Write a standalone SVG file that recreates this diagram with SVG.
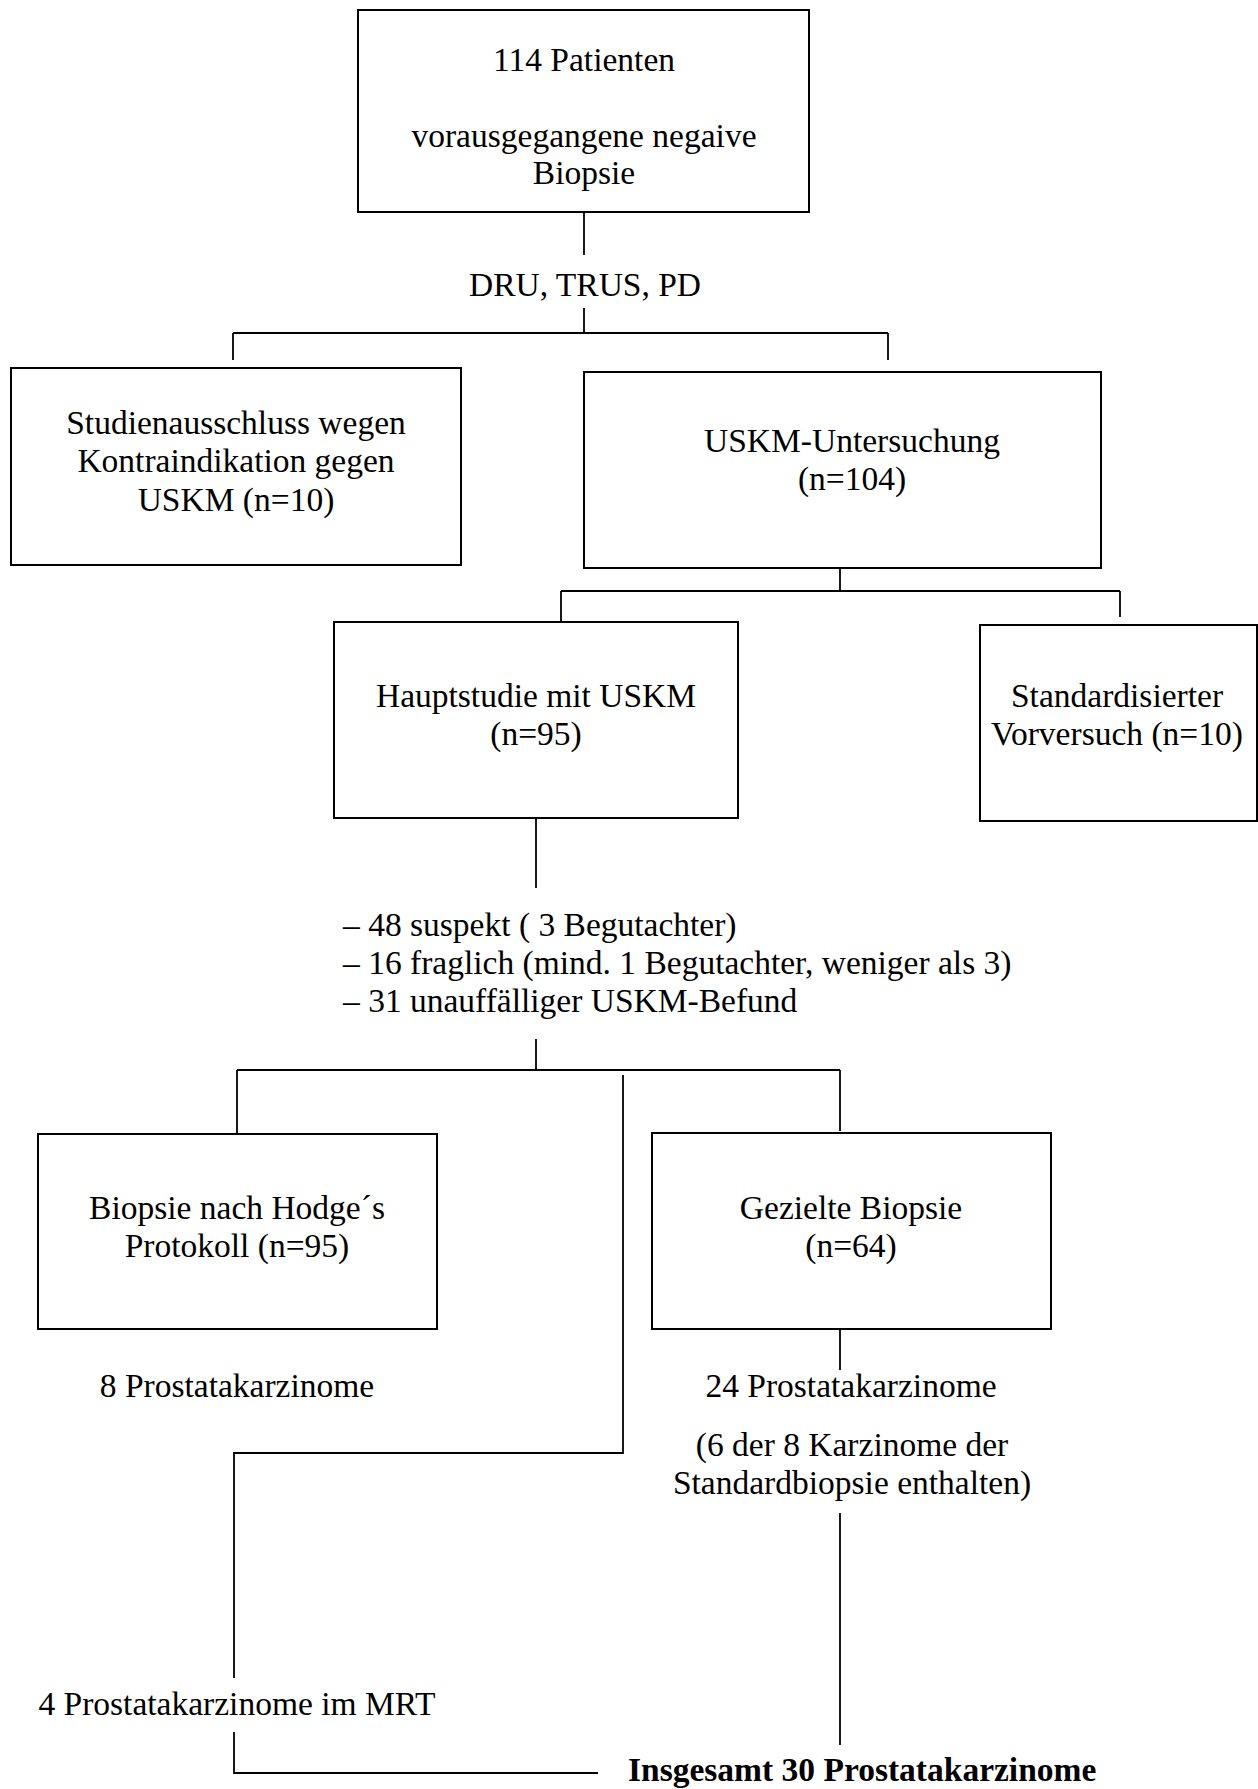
<svg xmlns="http://www.w3.org/2000/svg" width="1258" height="1789" viewBox="0 0 1258 1789">
<style>
text{font-family:"Liberation Serif","Times New Roman",serif;font-size:33.5px;fill:#000}
.c{text-anchor:middle}
.b{font-weight:bold}
.box{fill:#fff;stroke:#000;stroke-width:2}
.ln{fill:none;stroke:#000;stroke-width:1.8}
</style>
<rect width="1258" height="1789" fill="#fff"/>
<g id="connectors">
<path class="ln" d="M584,212 V255 M584,308 V333 M233,333 H888 M233,333 V360 M888,333 V360"/>
<path class="ln" d="M840,568 V591 M561,591 H1120 M561,591 V622 M1120,591 V617"/>
<path class="ln" d="M536,818 V888 M536,1039 V1070 M237,1070 H840 M237,1070 V1134 M840,1070 V1131"/>
<path class="ln" d="M623,1075 V1453 H234 V1678 M234,1732 V1773 H598"/>
<path class="ln" d="M840,1329 V1370 M840,1513 V1745"/>
</g>
<g id="n1">
<rect class="box" x="358" y="10" width="451" height="202"/>
<text class="c" x="584" y="71">114 Patienten</text>
<text class="c" x="584" y="147">vorausgegangene negaive</text>
<text class="c" x="584" y="184">Biopsie</text>
</g>
<g id="lbl-dru">
<text class="c" x="585" y="296">DRU, TRUS, PD</text>
</g>
<g id="n2">
<rect class="box" x="11" y="368" width="450" height="197"/>
<text class="c" x="236" y="434">Studienausschluss wegen</text>
<text class="c" x="236" y="472">Kontraindikation gegen</text>
<text class="c" x="236" y="511">USKM (n=10)</text>
</g>
<g id="n3">
<rect class="box" x="584" y="372" width="517" height="196"/>
<text class="c" x="852" y="452">USKM-Untersuchung</text>
<text class="c" x="852" y="490">(n=104)</text>
</g>
<g id="n4">
<rect class="box" x="334" y="622" width="404" height="196"/>
<text class="c" x="536" y="707">Hauptstudie mit USKM</text>
<text class="c" x="536" y="745">(n=95)</text>
</g>
<g id="n5">
<rect class="box" x="980" y="625" width="277" height="196"/>
<text class="c" x="1117" y="707">Standardisierter</text>
<text class="c" x="1117" y="745">Vorversuch (n=10)</text>
</g>
<g id="lbl-list">
<text x="343" y="936">– 48 suspekt ( 3 Begutachter)</text>
<text x="343" y="974">– 16 fraglich (mind. 1 Begutachter, weniger als 3)</text>
<text x="343" y="1012">– 31 unauffälliger USKM-Befund</text>
</g>
<g id="n6">
<rect class="box" x="38" y="1134" width="399" height="195"/>
<text class="c" x="237" y="1219">Biopsie nach Hodge´s</text>
<text class="c" x="237" y="1257">Protokoll (n=95)</text>
</g>
<g id="n7">
<rect class="box" x="652" y="1133" width="399" height="196"/>
<text class="c" x="851" y="1219">Gezielte Biopsie</text>
<text class="c" x="851" y="1257">(n=64)</text>
</g>
<g id="lbl-8">
<text class="c" x="237" y="1397">8 Prostatakarzinome</text>
</g>
<g id="lbl-24">
<text class="c" x="851" y="1397">24 Prostatakarzinome</text>
<text class="c" x="852" y="1456">(6 der 8 Karzinome der</text>
<text class="c" x="852" y="1494">Standardbiopsie enthalten)</text>
</g>
<g id="lbl-mrt">
<text class="c" x="237" y="1715">4 Prostatakarzinome im MRT</text>
</g>
<g id="lbl-total">
<text class="b" x="628" y="1781">Insgesamt 30 Prostatakarzinome</text>
</g>
</svg>
